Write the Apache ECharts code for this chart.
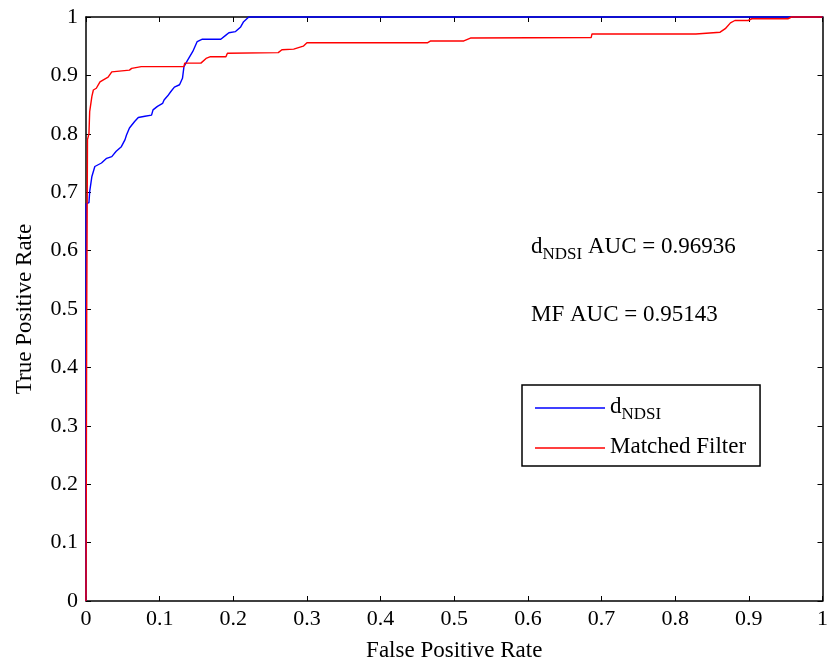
<!DOCTYPE html>
<html>
<head>
<meta charset="utf-8">
<script src="https://cdn.jsdelivr.net/npm/echarts@6/dist/echarts.min.js"></script>
<style>html,body{margin:0;padding:0;background:#fff}#c{width:831px;height:667px}</style>
</head>
<body>
<div id="c"></div>
<script>
const xTicks = ['0','0.1','0.2','0.3','0.4','0.5','0.6','0.7','0.8','0.9','1'];
const yTicks = ['0','0.1','0.2','0.3','0.4','0.5','0.6','0.7','0.8','0.9','1'];
const seriesNames = ['dNDSI', 'Matched Filter'];
const aucLabels = ['AUC = 0.96936', 'MF AUC = 0.95143'];

const ndsiFpr = [0,0,0.004,0.005,0.008,0.012,0.021,0.028,0.035,0.041,0.048,0.053,0.055,0.059,0.066,0.071,0.080,0.089,0.091,0.097,0.104,0.106,0.111,0.115,0.120,0.127,0.131,0.133,0.138,0.145,0.151,0.158,0.183,0.190,0.194,0.203,0.210,0.214,0.221,1];
const ndsiTpr = [0,0.68,0.682,0.701,0.727,0.744,0.750,0.758,0.761,0.770,0.778,0.790,0.798,0.810,0.821,0.828,0.830,0.832,0.841,0.847,0.852,0.858,0.865,0.872,0.880,0.884,0.895,0.915,0.926,0.941,0.958,0.962,0.962,0.969,0.973,0.975,0.983,0.992,1,1];

const mfFpr = [0,0.001,0.002,0.004,0.005,0.008,0.010,0.014,0.019,0.023,0.030,0.035,0.037,0.059,0.062,0.075,0.133,0.134,0.156,0.163,0.169,0.190,0.192,0.261,0.266,0.282,0.284,0.295,0.300,0.464,0.468,0.513,0.522,0.686,0.687,0.828,0.830,0.861,0.868,0.875,0.881,0.899,0.904,0.953,0.958,1];
const mfTpr = [0,0.5,0.79,0.80,0.838,0.864,0.875,0.878,0.889,0.892,0.897,0.906,0.909,0.909,0.912,0.915,0.915,0.921,0.921,0.929,0.932,0.932,0.938,0.939,0.944,0.945,0.948,0.950,0.956,0.956,0.959,0.959,0.964,0.965,0.971,0.971,0.974,0.974,0.980,0.990,0.994,0.994,0.997,0.997,1,1];

const pairs = (xs, ys) => xs.map((x, i) => [x, ys[i]]);
const FONT = '"Liberation Serif", "Times New Roman", serif';

const chart = echarts.init(document.getElementById('c'), null, {renderer: 'canvas'});
const axisCommon = {
  type: 'value', min: 0, max: 1, interval: 0.1,
  axisLine: {show: true, onZero: false, lineStyle: {color: '#000', width: 1.5}},
  axisTick: {show: true, inside: true, length: 5, lineStyle: {color: '#000', width: 1}},
  splitLine: {show: false}
};
chart.setOption({
  backgroundColor: '#fff',
  animation: false,
  grid: {left: 86, right: 3, top: 17, bottom: 65, containLabel: false},
  xAxis: [
    Object.assign({}, axisCommon, {
      position: 'bottom',
      name: 'False Positive Rate', nameLocation: 'middle', nameGap: 38,
      nameTextStyle: {fontFamily: FONT, fontSize: 23, color: '#000'},
      axisLabel: {fontFamily: FONT, fontSize: 22, color: '#000', margin: 7,
        formatter: (v) => xTicks[Math.round(v * 10)]}
    }),
    Object.assign({}, axisCommon, {position: 'top', axisLabel: {show: false}})
  ],
  yAxis: [
    Object.assign({}, axisCommon, {
      position: 'left',
      name: 'True Positive Rate', nameLocation: 'middle', nameGap: 50,
      nameTextStyle: {fontFamily: FONT, fontSize: 23, color: '#000'},
      axisLabel: {fontFamily: FONT, fontSize: 22, color: '#000', margin: 8,
        formatter: (v) => yTicks[Math.round(v * 10)]}
    }),
    Object.assign({}, axisCommon, {position: 'right', axisLabel: {show: false}})
  ],
  legend: {
    orient: 'vertical', left: 522, top: 385,
    padding: [10, 14, 8, 13],
    borderColor: '#000', borderWidth: 1.5,
    icon: 'rect',
    itemWidth: 70, itemHeight: 1.6, itemGap: 12,
    data: seriesNames,
    formatter: (n) => n === 'dNDSI' ? '{m|d}{s|NDSI}' : '{m|' + n + '}',
    textStyle: {
      fontFamily: FONT, fontSize: 23, color: '#000',
      rich: {
        m: {fontFamily: FONT, fontSize: 23, color: '#000', lineHeight: 26, verticalAlign: 'top'},
        s: {fontFamily: FONT, fontSize: 17, color: '#000', lineHeight: 20, verticalAlign: 'top', padding: [11, 0, 0, 0]}
      }
    }
  },
  graphic: [
    {
      type: 'text', left: 531, top: 235,
      style: {
        text: '{m|d}{s|NDSI}{m| ' + aucLabels[0] + '}',
        rich: {
          m: {fontFamily: FONT, fontSize: 23, fill: '#000', lineHeight: 26, verticalAlign: 'top'},
          s: {fontFamily: FONT, fontSize: 17, fill: '#000', lineHeight: 20, verticalAlign: 'top', padding: [11, 0, 0, 0]}
        }
      }
    },
    {
      type: 'text', left: 531, top: 303,
      style: {text: aucLabels[1], font: '23px ' + FONT, fill: '#000'}
    }
  ],
  series: [
    {
      name: 'dNDSI', type: 'line', data: pairs(ndsiFpr, ndsiTpr),
      symbol: 'none', clip: false, color: '#0000ff',
      lineStyle: {color: '#0000ff', width: 1.4}
    },
    {
      name: 'Matched Filter', type: 'line', data: pairs(mfFpr, mfTpr),
      symbol: 'none', clip: false, color: '#ff0000',
      lineStyle: {color: '#ff0000', width: 1.4}
    }
  ]
});
</script>
</body>
</html>
